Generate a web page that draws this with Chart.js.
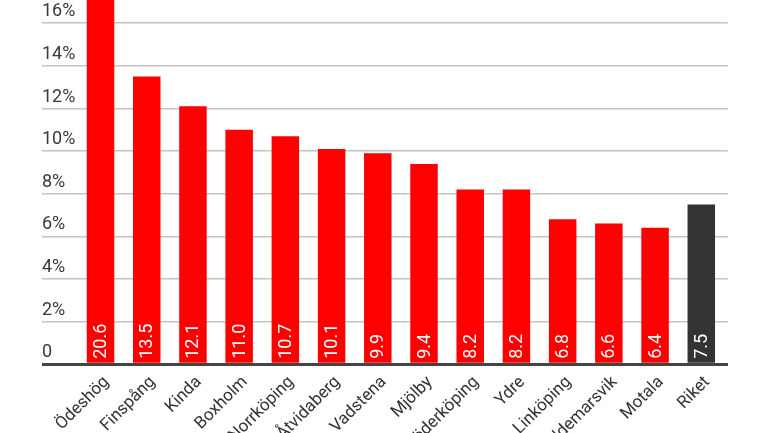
<!DOCTYPE html>
<html>
<head>
<meta charset="utf-8">
<script src="https://cdn.jsdelivr.net/npm/chart.js@4/dist/chart.umd.min.js"></script>
<style>
    html, body { margin: 0; padding: 0; background: #fff; }
    #wrap { width: 770px; height: 433px; }
</style>
</head>
<body>
<div id="wrap"><canvas id="chart" width="770" height="433"></canvas></div>
<script>
const kommuner = ["Ödeshög", "Finspång", "Kinda", "Boxholm", "Norrköping", "Åtvidaberg", "Vadstena",
    "Mjölby", "Söderköping", "Ydre", "Linköping", "Valdemarsvik", "Motala", "Riket"];
const andel = [20.6, 13.5, 12.1, 11.0, 10.7, 10.1, 9.9, 9.4, 8.2, 8.2, 6.8, 6.6, 6.4, 7.5];
const yTicks = [0, 2, 4, 6, 8, 10, 12, 14, 16];

const RED = "#ff0000";
const DARK = "#333333";

const keepTicks = (scale) => {
    scale.ticks = scale.ticks.filter(t => yTicks.includes(t.value));
};

// no extra room above/below the plot for the tick labels
const noPad = (scale) => {
    scale.paddingTop = 0;
    scale.paddingBottom = 0;
};

// white value labels standing inside the foot of each bar
const valueLabels = {
    id: "valueLabels",
    afterDatasetsDraw(chart) {
        const ctx = chart.ctx;
        const meta = chart.getDatasetMeta(0);
        ctx.save();
        ctx.fillStyle = "#ffffff";
        ctx.font = "18px Roboto";
        ctx.textAlign = "left";
        ctx.textBaseline = "middle";
        meta.data.forEach((bar, i) => {
            ctx.save();
            ctx.translate(bar.x + 1, bar.base - 4);
            ctx.rotate(-Math.PI / 2);
            ctx.fillText(andel[i].toFixed(1), 0, 0);
            ctx.restore();
        });
        ctx.restore();
    }
};

const gridColor = (c) => c.tick && c.tick.value === 0 ? "#444444" : "#c4c4c4";
const gridWidth = (c) => c.tick && c.tick.value === 0 ? 3 : 1.5;

new Chart(document.getElementById("chart"), {
    type: "bar",
    data: {
        labels: kommuner,
        datasets: [{
            data: andel,
            backgroundColor: kommuner.map(k => k === "Riket" ? DARK : RED),
            borderWidth: 0,
            categoryPercentage: 1,
            barPercentage: 0.595
        }]
    },
    options: {
        responsive: false,
        animation: false,
        layout: { padding: { left: 42, right: 42, top: 0, bottom: 0 } },
        plugins: {
            legend: { display: false },
            tooltip: { enabled: false }
        },
        scales: {
            x: {
                offset: true,
                grid: { display: false },
                border: { display: false },
                ticks: {
                    color: "#333333",
                    font: { family: "Roboto", size: 17 },
                    maxRotation: 45,
                    minRotation: 45,
                    autoSkip: false,
                    padding: 0,
                    labelOffset: 6
                },
                afterFit: (scale) => {
                    scale.height = 68.7;
                    scale.paddingLeft = 0;
                    scale.paddingRight = 0;
                }
            },
            y: {
                min: 0,
                max: 17.09,
                border: { display: false },
                grid: { color: gridColor, lineWidth: gridWidth, tickLength: 35.4 },
                ticks: {
                    stepSize: 2,
                    crossAlign: "far",
                    labelOffset: -11.5,
                    color: "#3a3a3a",
                    font: { family: "Roboto", size: 18 },
                    callback: (v) => v === 0 ? "0" : v + "%"
                },
                afterBuildTicks: keepTicks,
                afterFit: (scale) => {
                    scale.width = 35.4;
                    noPad(scale);
                }
            },
            yRight: {
                position: "right",
                min: 0,
                max: 17.09,
                border: { display: false },
                grid: { color: gridColor, lineWidth: gridWidth, tickLength: 3.6, drawOnChartArea: false },
                ticks: { stepSize: 2, display: false },
                afterBuildTicks: keepTicks,
                afterFit: (scale) => {
                    scale.width = 3.6;
                    noPad(scale);
                }
            }
        }
    },
    plugins: [valueLabels]
});
</script>
</body>
</html>
